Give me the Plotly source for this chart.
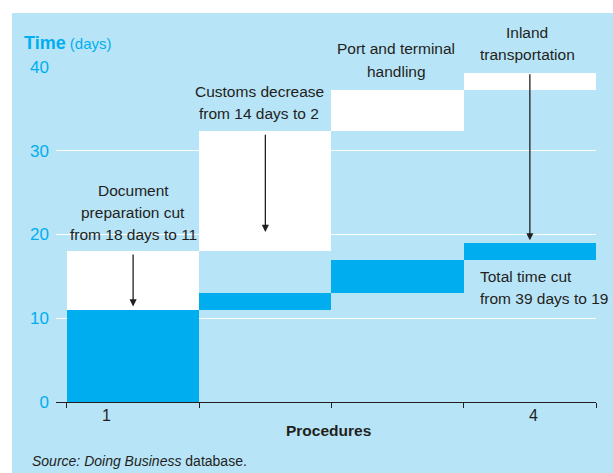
import plotly.graph_objects as go

# Procedures 1..4 (document prep, customs, port/terminal, inland transport)
procedures = [1, 2, 3, 4]
proc_labels = {1: "1", 4: "4"}

# Cumulative time (days) before the reforms
before_start = [0, 18, 32.3, 37.3]
before_end = [18, 32.3, 37.3, 39.3]
# Cumulative time (days) after the reforms
after_start = [0, 11, 13, 17]
after_end = [11, 13, 17, 19]

# Arrows: procedure, tail, tip (days)
arrow_x = [1, 2, 4]
arrow_from = [17.8, 32.1, 39.3]
arrow_to = [11.4, 20.3, 19.3]

BLUE = "#00AEEF"
LIGHT = "#B8E4F8"
INK = "#231F20"
FONT = "Liberation Sans, Arial, sans-serif"

fig = go.Figure()

fig.add_trace(go.Bar(
    x=procedures,
    y=[e - s for s, e in zip(before_start, before_end)],
    base=before_start, width=1,
    marker=dict(color="white", line=dict(width=0)),
    hoverinfo="skip", showlegend=False,
))
fig.add_trace(go.Bar(
    x=procedures,
    y=[e - s for s, e in zip(after_start, after_end)],
    base=after_start, width=1,
    marker=dict(color=BLUE, line=dict(width=0)),
    hoverinfo="skip", showlegend=False,
))

# light blue panel behind the chart
fig.add_shape(type="rect", xref="paper", yref="paper",
              x0=-0.0815, x1=1.04, y0=-0.25, y1=1.161,
              fillcolor=LIGHT, line=dict(width=0), layer="below")

txt = dict(family=FONT, size=15.5, color=INK)


def note(x, y, lines, yref="y", **kw):
    # one annotation per line, 22px apart
    for i, line in enumerate(lines):
        fig.add_annotation(x=x, y=y, xref="x", yref=yref, text=line,
                           yanchor="middle", yshift=-22 * i,
                           showarrow=False, font=txt, **kw)


note(1.0, 25.3, ["Document", "preparation cut", "from 18 days to 11"])
note(1.955, 37.05, ["Customs decrease", "from 14 days to 2"])
note(2.99, 1.0567, ["Port and terminal"], yref="paper")
note(2.99, 0.988, ["handling"], yref="paper", bgcolor=LIGHT)
note(3.98, 1.1015, ["Inland", "transportation"], yref="paper")
note(3.605, 14.93, ["Total time cut", "from 39 days to 19"], xanchor="left")

for x, y0, y1 in zip(arrow_x, arrow_from, arrow_to):
    fig.add_annotation(x=x, y=y1, ax=x, ay=y0, xref="x", yref="y",
                       axref="x", ayref="y", text="", showarrow=True,
                       arrowhead=2, arrowsize=1.1, arrowwidth=1.3,
                       arrowcolor=INK)

for p, lab in proc_labels.items():
    fig.add_annotation(x=p - 0.2 if p == 1 else p + 0.03, y=0, xref="x", yref="y",
                       yshift=-13, text=lab, showarrow=False,
                       font=dict(family=FONT, size=16, color=INK))

fig.add_annotation(x=0.504, y=-0.0836, xref="paper", yref="paper",
                   xanchor="center", yanchor="middle",
                   text="<b>Procedures</b>", showarrow=False,
                   font=dict(family=FONT, size=15.5, color=INK))
fig.add_annotation(x=-0.063, y=1.072, xref="paper", yref="paper",
                   xanchor="left", yanchor="middle",
                   text="<b><span style='font-size:18px'>Time</span></b> (days)",
                   showarrow=False,
                   font=dict(family=FONT, size=15, color=BLUE))
fig.add_annotation(x=-0.048, y=-0.176, xref="paper", yref="paper",
                   xanchor="left", yanchor="middle",
                   text="<i>Source: Doing Business</i> database.",
                   showarrow=False, font=dict(family=FONT, size=14, color=INK))

fig.update_layout(
    width=613, height=473,
    margin=dict(l=56, r=17, t=67, b=71),
    paper_bgcolor="white", plot_bgcolor="rgba(0,0,0,0)",
    barmode="overlay", bargap=0,
    font=dict(family=FONT, size=15, color=INK),
)
fig.update_xaxes(
    range=[0.417, 4.5], tickvals=[0.5, 1.5, 2.5, 3.5, 4.5],
    showticklabels=False, ticks="outside", ticklen=5, tickcolor=INK,
    showline=True, linecolor=INK, linewidth=1, showgrid=False, zeroline=False,
)
fig.update_yaxes(
    range=[0, 40], tickvals=[0, 10, 20, 30, 40],
    tickfont=dict(family=FONT, size=17, color=BLUE),
    showgrid=True, gridcolor="white", gridwidth=1, zeroline=False,
    ticks="", ticklabelstandoff=6,
)

# drop the browser's default 8px body margin so the figure fills the window
fig.write_html("out.html", config={"displayModeBar": False},
               post_script="document.body.style.margin='0';")
